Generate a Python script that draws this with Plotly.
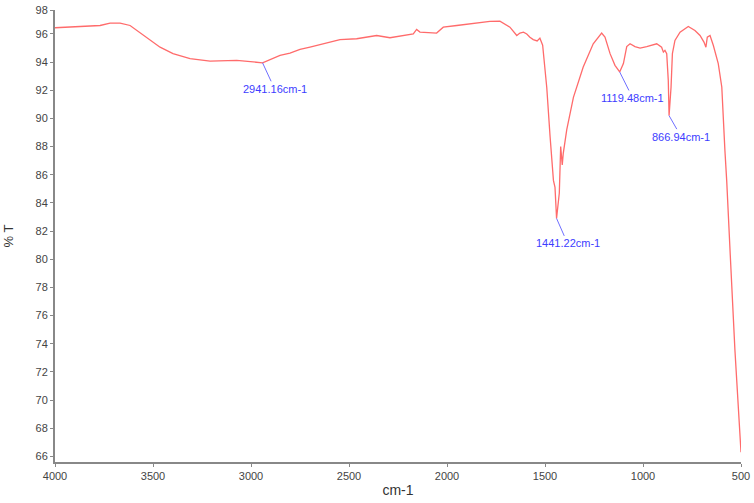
import plotly.graph_objects as go

# Data
wavenumber = [4000, 3856, 3770, 3719, 3668, 3617, 3532, 3464, 3398, 3311, 3209, 3073,
              2941, 2852, 2801, 2750, 2699, 2546, 2461, 2359, 2291, 2172, 2155, 2138,
              2053, 2019, 1950, 1849, 1781, 1730, 1679, 1644, 1628, 1610, 1593, 1577,
              1560, 1540, 1526, 1512, 1500, 1491, 1474, 1457, 1449, 1441, 1427, 1420,
              1412, 1407, 1389, 1355, 1305, 1254, 1211, 1194, 1168, 1143, 1119, 1100,
              1083, 1066, 1041, 1015, 981, 930, 905, 896, 888, 879, 871, 867, 857, 850,
              837, 811, 769, 735, 709, 689, 679, 672, 658, 641, 616, 598, 582, 573,
              556, 531, 500]
transmittance = [96.44, 96.53, 96.60, 96.77, 96.77, 96.60, 95.77, 95.06, 94.60, 94.24, 94.07, 94.12,
                 93.95, 94.48, 94.64, 94.90, 95.06, 95.59, 95.66, 95.89, 95.73, 96.01, 96.32, 96.13,
                 96.06, 96.48, 96.60, 96.77, 96.89, 96.91, 96.48, 95.89, 96.06, 96.13, 96.00, 95.77,
                 95.60, 95.50, 95.70, 95.20, 93.60, 92.20, 88.70, 85.60, 85.10, 82.90, 84.70, 88.00,
                 86.70, 87.50, 89.20, 91.50, 93.65, 95.30, 96.06, 95.77, 94.60, 93.77, 93.30, 93.90,
                 95.10, 95.30, 95.10, 95.00, 95.10, 95.30, 95.06, 94.71, 94.83, 94.60, 92.70, 90.20, 92.20, 94.60,
                 95.54, 96.13, 96.53, 96.25, 95.89, 95.42, 95.06, 95.77, 95.89, 95.18, 93.89, 92.23, 87.70, 85.60,
                 80.65, 73.55, 66.30]

peak_x = [2941, 1441, 1119, 867]
peak_y = [93.95, 82.90, 93.30, 90.20]
peak_labels = ["2941.16cm-1", "1441.22cm-1", "1119.48cm-1", "866.94cm-1"]

y_ticks = list(range(66, 100, 2))
x_ticks = [4000, 3500, 3000, 2500, 2000, 1500, 1000, 500]
y_range = [65.6, 97.7]

fig = go.Figure()
fig.add_trace(go.Scatter(x=wavenumber, y=transmittance, mode="lines",
                         line=dict(color="#ff6b6b", width=1.3), showlegend=False))

offsets = [(12, 26), (11, 25), (13, 26), (12, 21)]
for px, py, txt, (ax, ay) in zip(peak_x, peak_y, peak_labels, offsets):
    fig.add_annotation(x=px, y=py, text=txt, showarrow=True, arrowhead=0,
                       arrowwidth=1, arrowcolor="#6f6fff", ax=ax, ay=ay,
                       font=dict(family="Liberation Sans", size=11, color="#3d3dff"))

tick_pos = [min(max(v, y_range[0]), y_range[1]) for v in y_ticks]

fig.update_layout(
    width=754, height=503,
    margin=dict(l=55, r=13, t=10, b=41),
    paper_bgcolor="white", plot_bgcolor="white",
    font=dict(family="Liberation Sans", size=11, color="#444"),
    xaxis=dict(range=[4000, 500], tickvals=x_ticks, ticks="outside", ticklen=3,
               tickcolor="#888", showline=True, linecolor="#888", linewidth=2,
               showgrid=False, zeroline=False, automargin=False,
               title=dict(text="cm-1", font=dict(size=14, color="#333"), standoff=4)),
    yaxis=dict(range=y_range, tickvals=tick_pos, ticktext=[str(v) for v in y_ticks],
               ticks="outside", ticklen=3, tickcolor="#888", showline=True,
               linecolor="#888", linewidth=2, showgrid=False, zeroline=False,
               automargin=False,
               title=dict(text="% T", font=dict(size=13, color="#333"), standoff=19)),
)

fig.write_html("out.html", config={"displayModeBar": False},
               post_script="document.body.style.margin='0';")
